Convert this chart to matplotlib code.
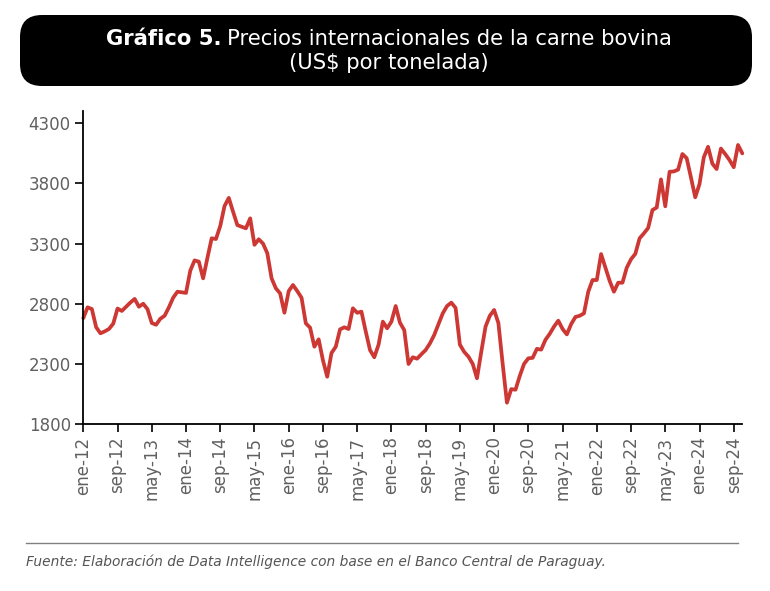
import matplotlib
matplotlib.use("Agg")
import matplotlib.pyplot as plt
from matplotlib.patches import FancyBboxPatch

# ---- data (US$ per tonne, monthly from ene-12) ----
prices = [
    2680, 2770, 2756, 2605, 2554, 2570, 2590, 2635, 2760, 2740,
    2775, 2810, 2840, 2775, 2800, 2755, 2640, 2625, 2675, 2700,
    2770, 2850, 2900, 2895, 2890, 3075, 3160, 3150, 3011, 3180,
    3344, 3338, 3446, 3612, 3680, 3565, 3454, 3440, 3427, 3510,
    3290, 3336, 3300, 3220, 3011, 2928, 2886, 2725, 2905, 2956,
    2905, 2850, 2637, 2601, 2443, 2504, 2330, 2193, 2390, 2443,
    2587, 2604, 2590, 2762, 2725, 2734, 2570, 2415, 2355, 2460,
    2651, 2596, 2651, 2781, 2642, 2581, 2299, 2355, 2343, 2380,
    2415, 2470, 2540, 2630, 2720, 2781, 2809, 2765, 2460, 2400,
    2360, 2300, 2180, 2400, 2610, 2700, 2748, 2640, 2300, 1977,
    2090, 2085, 2200, 2300, 2346, 2350, 2425, 2418, 2500, 2550,
    2610, 2659, 2590, 2545, 2630, 2690, 2700, 2720, 2900, 2997,
    2997, 3213, 3100, 2990, 2900, 2975, 2975, 3100, 3170, 3215,
    3344, 3385, 3430, 3579, 3600, 3834, 3610, 3897, 3900, 3915,
    4045, 4010, 3850, 3685, 3795, 4017, 4105, 3965, 3920, 4090,
    4045, 3995, 3935, 4120, 4050,
]
tick_labels = ["ene-12", "sep-12", "may-13", "ene-14", "sep-14", "may-15",
               "ene-16", "sep-16", "may-17", "ene-18", "sep-18", "may-19",
               "ene-20", "sep-20", "may-21", "ene-22", "sep-22", "may-23",
               "ene-24", "sep-24"]
y_ticks = [1800, 2300, 2800, 3300, 3800, 4300]

title_bold = "Gráfico 5."
title_rest = "Precios internacionales de la carne bovina"
title_line2 = r"(US\$ por tonelada)"
source = "Fuente: Elaboración de Data Intelligence con base en el Banco Central de Paraguay."

W, H = 770, 591
fig = plt.figure(figsize=(W / 100, H / 100), dpi=100)
fig.patch.set_facecolor("white")

# ---- main axes ----
left, right, top, bottom = 83.3, 742.3, 111.3, 424.0
ax = fig.add_axes([left / W, 1 - bottom / H, (right - left) / W, (bottom - top) / H])
xs = list(range(len(prices)))
ax.plot(xs, prices, color="#cd3834", lw=2.7, solid_joinstyle="round",
        solid_capstyle="round", clip_on=False)
ax.set_xlim(0, len(prices) - 1)
ax.set_ylim(1800, 4400)
ax.set_yticks(y_ticks)
ax.set_xticks(list(range(0, 8 * len(tick_labels), 8)))
ax.set_xticklabels(tick_labels, rotation=90)
for s in ("top", "right"):
    ax.spines[s].set_visible(False)
for s in ("left", "bottom"):
    ax.spines[s].set_color("black")
    ax.spines[s].set_linewidth(1.3)
ax.tick_params(axis="both", direction="out", length=6, width=1.2, color="black",
               labelcolor="#606060", labelsize=12, pad=3)
ax.patch.set_alpha(0)

# ---- overlay in pixel units ----
ov = fig.add_axes([0, 0, 1, 1], zorder=-1)
ov.set_xlim(0, W)
ov.set_ylim(H, 0)
ov.axis("off")

box = FancyBboxPatch((20, 15), 732, 71, boxstyle="round,pad=0,rounding_size=22",
                     fc="black", ec="none")
ov.add_patch(box)

fs = 15.2
t1 = ov.text(0, 39, title_bold, color="white", fontsize=fs, fontweight="bold",
             ha="left", va="center")
t2 = ov.text(0, 39, title_rest, color="white", fontsize=fs, ha="left", va="center")
r = fig.canvas.get_renderer()
w1 = t1.get_window_extent(r).width
w2 = t2.get_window_extent(r).width
gap = 6
x0 = 389 - (w1 + gap + w2) / 2
t1.set_x(x0)
t2.set_x(x0 + w1 + gap)
ov.text(389, 63, title_line2, color="white", fontsize=fs, ha="center", va="center")

ov.plot([26, 738], [543, 543], color="#808080", lw=1)
ov.text(26, 562, source, color="#555555", fontsize=9.9, style="italic",
        ha="left", va="center")

fig.savefig("out.png", dpi=100)
